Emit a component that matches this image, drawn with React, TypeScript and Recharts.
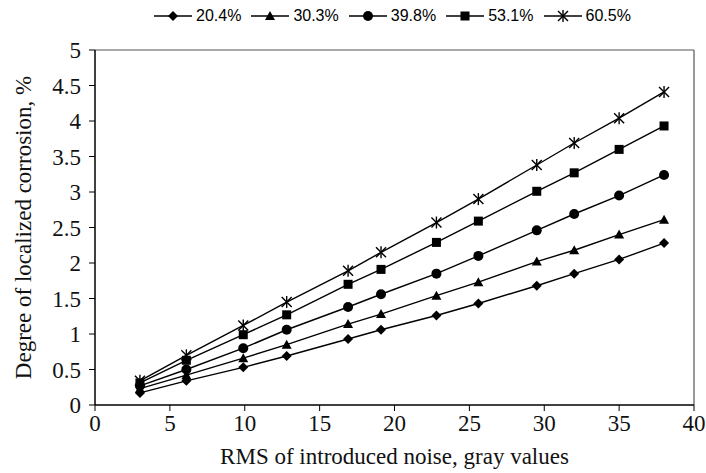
import React from "react";
import {
  LineChart, Line, XAxis, YAxis, ReferenceLine,
} from "recharts";

// RMS of the noise added to the image (gray values)
const rms = [3, 6.1, 9.9, 12.8, 16.9, 19.1, 22.8, 25.6, 29.5, 32, 35, 38];

// degree of localized corrosion (%) for each corrosion level
const corr204 = [0.17, 0.34, 0.53, 0.69, 0.93, 1.06, 1.26, 1.43, 1.68, 1.85, 2.05, 2.28];
const corr303 = [0.23, 0.42, 0.66, 0.85, 1.14, 1.28, 1.54, 1.73, 2.02, 2.18, 2.4, 2.61];
const corr398 = [0.27, 0.5, 0.8, 1.06, 1.38, 1.56, 1.85, 2.1, 2.46, 2.69, 2.95, 3.24];
const corr531 = [0.31, 0.63, 0.99, 1.27, 1.7, 1.91, 2.29, 2.59, 3.01, 3.27, 3.6, 3.93];
const corr605 = [0.34, 0.7, 1.12, 1.45, 1.89, 2.15, 2.57, 2.9, 3.38, 3.69, 4.04, 4.41];

const seriesNames = ["20.4%", "30.3%", "39.8%", "53.1%", "60.5%"];
const seriesKeys = ["s204", "s303", "s398", "s531", "s605"];
const seriesValues = [corr204, corr303, corr398, corr531, corr605];
const markers = ["diamond", "triangle", "circle", "square", "star"];

const xTicks = [0, 5, 10, 15, 20, 25, 30, 35, 40];
const yTicks = [0, 0.5, 1, 1.5, 2, 2.5, 3, 3.5, 4, 4.5, 5];

const data = rms.map((x, i) => {
  const row: Record<string, number> = { rms: x };
  seriesKeys.forEach((k, j) => { row[k] = seriesValues[j][i]; });
  return row;
});

const SERIF = "'Liberation Serif', 'Times New Roman', serif";
const SANS = "'Liberation Sans', Arial, sans-serif";

function Marker({ type, cx, cy }: { type: string; cx: number; cy: number }) {
  if (cx == null || cy == null) return null;
  switch (type) {
    case "diamond":
      return <polygon points={`${cx},${cy - 5} ${cx + 5},${cy} ${cx},${cy + 5} ${cx - 5},${cy}`} fill="#000" />;
    case "triangle":
      return <polygon points={`${cx},${cy - 5} ${cx + 5},${cy + 4} ${cx - 5},${cy + 4}`} fill="#000" />;
    case "circle":
      return <circle cx={cx} cy={cy} r={5} fill="#000" />;
    case "square":
      return <rect x={cx - 4.5} y={cy - 4.5} width={9} height={9} fill="#000" />;
    default:
      return (
        <g stroke="#000" strokeWidth={1.4}>
          <line x1={cx - 5} y1={cy - 5} x2={cx + 5} y2={cy + 5} />
          <line x1={cx - 5} y1={cy + 5} x2={cx + 5} y2={cy - 5} />
          <line x1={cx} y1={cy - 6} x2={cx} y2={cy + 6} />
        </g>
      );
  }
}

function LegendRow() {
  return (
    <div
      style={{
        position: "absolute", left: 154, top: 6, display: "flex", gap: 10,
        fontFamily: SANS, fontSize: 16, color: "#000", alignItems: "center",
      }}
    >
      {seriesNames.map((name, i) => (
        <div key={name} style={{ display: "flex", alignItems: "center", gap: 4 }}>
          <svg width={38} height={20}>
            <line x1={0} y1={10} x2={38} y2={10} stroke="#000" strokeWidth={1.3} />
            <Marker type={markers[i]} cx={19} cy={10} />
          </svg>
          <span>{name}</span>
        </div>
      ))}
    </div>
  );
}

export default function App() {
  return (
    <div style={{ position: "absolute", left: 0, top: 0, width: 706, height: 473, background: "#fff" }}>
      <LineChart
        width={706}
        height={473}
        data={data}
        margin={{ top: 50, right: 12, bottom: 0, left: 35 }}
      >
        <XAxis
          dataKey="rms"
          type="number"
          domain={[0, 40]}
          ticks={xTicks}
          interval={0}
          height={68}
          tickSize={6}
          tickMargin={4}
          stroke="#000"
          tick={{ fill: "#111", fontSize: 23, fontFamily: SERIF }}
          axisLine={{ stroke: "#000", strokeWidth: 1.5 }}
          label={{
            value: "RMS of introduced noise, gray values",
            position: "insideBottom",
            offset: 9,
            fill: "#111",
            fontSize: 23,
            fontFamily: SERIF,
          }}
        />
        <YAxis
          type="number"
          domain={[0, 5]}
          ticks={yTicks}
          interval={0}
          width={60}
          tickSize={6}
          tickMargin={8}
          stroke="#000"
          tick={{ fill: "#111", fontSize: 23, fontFamily: SERIF }}
          axisLine={{ stroke: "#000", strokeWidth: 1.5 }}
          label={{
            value: "Degree of localized corrosion, %",
            angle: -90,
            position: "insideLeft",
            offset: -12,
            style: { textAnchor: "middle" },
            fill: "#111",
            fontSize: 23,
            fontFamily: SERIF,
          }}
        />
        <ReferenceLine y={5} stroke="#555" strokeWidth={1.2} />
        <ReferenceLine x={40} stroke="#555" strokeWidth={1.2} />
        {seriesKeys.map((k, i) => (
          <Line
            key={k}
            dataKey={k}
            name={seriesNames[i]}
            stroke="#000"
            strokeWidth={1.4}
            isAnimationActive={false}
            dot={(p: any) => <Marker key={`${k}-${p.index}`} type={markers[i]} cx={p.cx} cy={p.cy} />}
            activeDot={false}
          />
        ))}
      </LineChart>
      <LegendRow />
    </div>
  );
}
